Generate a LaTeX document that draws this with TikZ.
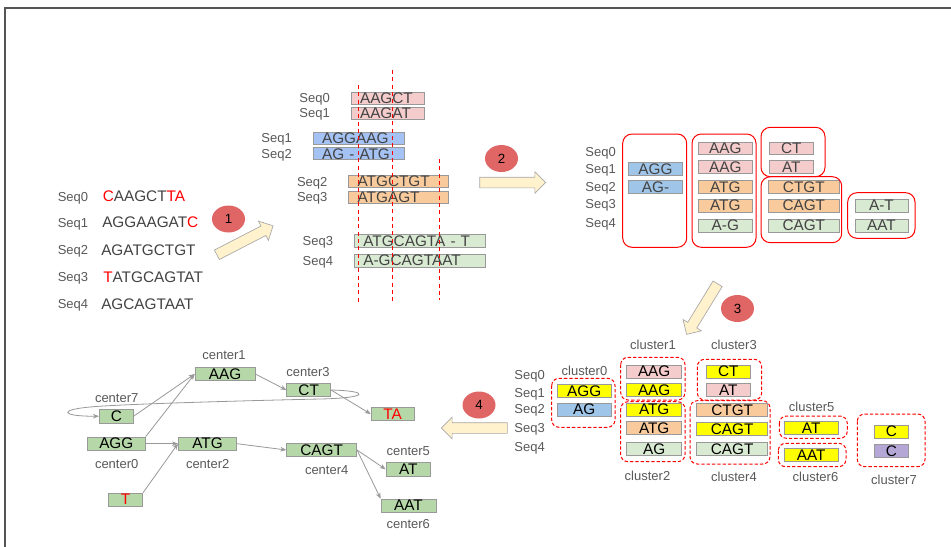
\documentclass[tikz,border=0pt]{standalone}
\usepackage{fontspec}
\setmainfont{Liberation Sans}
\usetikzlibrary{arrows.meta,positioning,shapes.geometric,shapes.arrows}
\definecolor{pinkc}{HTML}{F4CCCC}
\definecolor{bluec}{HTML}{9FC5E8}
\definecolor{cornc}{HTML}{A4C2F4}
\definecolor{orangec}{HTML}{F9CB9C}
\definecolor{greenc}{HTML}{D9EAD3}
\definecolor{nodegreen}{HTML}{B6D7A8}
\definecolor{yellowc}{HTML}{FFFF00}
\definecolor{purplec}{HTML}{B4A7D6}
\definecolor{boxgray}{HTML}{999999}
\definecolor{textgray}{HTML}{434343}
\definecolor{labelgray}{HTML}{595959}
\definecolor{badgered}{HTML}{E06666}
\definecolor{arrowfill}{HTML}{FFF2CC}
\definecolor{arrowedge}{HTML}{A8A8A8}
\definecolor{framegray}{HTML}{555555}
\tikzset{
seqlabel/.style={inner sep=0pt, text depth=0pt, text=labelgray, font=\fontsize{9.75}{11}\selectfont},
seqtext/.style={inner sep=0pt, anchor=west, text=textgray, font=\fontsize{11.5}{13}\selectfont},
alnbox/.style={draw=boxgray, line width=0.5pt, anchor=west, inner xsep=6.75pt, inner ysep=0pt, minimum height=9pt, align=left, text=textgray, font=\fontsize{11.5}{13}\selectfont},
kbox/.style={draw=boxgray, line width=0.5pt, inner sep=0pt, minimum height=9.45pt, text=textgray, font=\fontsize{11.5}{13}\selectfont},
cbox/.style={kbox, text=black, minimum height=9.75pt},
gnode/.style={kbox, fill=nodegreen, text=black, minimum height=10pt},
solidframe/.style={draw=red, line width=0.75pt, rounded corners=7pt},
dashframe/.style={draw=red, line width=0.75pt, dash pattern=on 2.5pt off 1.5pt, rounded corners=5.5pt},
cutline/.style={draw=red, line width=0.75pt, dash pattern=on 3pt off 2.5pt},
badge/.style={ellipse, fill=badgered, inner sep=0pt, minimum width=24.75pt, minimum height=20.25pt, font=\fontsize{10}{12}\selectfont},
flowarrow/.style={single arrow, draw=arrowedge, fill=arrowfill, line width=0.5pt, inner xsep=0pt, inner ysep=3.75pt, single arrow head extend=4.1pt},
linkarrow/.style={draw=boxgray, line width=0.6pt, -{Stealth[length=4.5pt,width=3.5pt]}}
}
\begin{document}
\begin{tikzpicture}[x=0.75pt,y=-0.75pt]
\useasboundingbox (0,0) rectangle (951,547);
\fill[white] (0,0) rectangle (951,547);
\draw[line width=1pt, framegray] (951,8) -- (5,8) -- (5,547);

% input reads
\node[seqlabel, anchor=west] (r0) at (57.5,196.7) {Seq0};
\node[seqlabel, anchor=west] (r1) at (57.5,222.7) {Seq1};
\node[seqlabel, anchor=west] (r2) at (57.5,250) {Seq2};
\node[seqlabel, anchor=west] (r3) at (57.5,277.3) {Seq3};
\node[seqlabel, anchor=west] (r4) at (57.5,304) {Seq4};
\node[seqtext] (read0) at (102.5,196.7) {\textcolor{red}{C}AAGCT\textcolor{red}{TA}};
\node[seqtext] (read1) at (102,222.7) {AGGAAGAT\textcolor{red}{C}};
\node[seqtext] (read2) at (101,250) {AGATGCTGT};
\node[seqtext] (read3) at (103,277.3) {\textcolor{red}{T}ATGCAGTAT};
\node[seqtext] (read4) at (101,304) {AGCAGTAAT};

% pairwise alignments
\node[alnbox, fill=pinkc, text width=41.7pt] (p0) at (350.7,98.2) {AAGCT};
\node[alnbox, fill=pinkc, text width=41.7pt] (p1) at (350.7,113) {AAGAT};
\node[alnbox, fill=cornc, text width=55.2pt] (q1) at (312.7,138) {AGGAAG};
\node[alnbox, fill=cornc, text width=55.2pt] (q2) at (312.7,153.8) {AG - ATG};
\node[alnbox, fill=orangec, text width=61.05pt] (o2) at (348.3,181.7) {ATGCTGT};
\node[alnbox, fill=orangec, text width=61.05pt] (o3) at (348.3,197.2) {ATGAGT};
\node[alnbox, fill=greenc, text width=84.75pt, minimum height=9.75pt] (g3) at (354,240.8) {ATGCAGTA - T};
\node[alnbox, fill=greenc, text width=84.75pt, minimum height=9.75pt] (g4) at (354,260.7) {A-GCAGTAAT};
\node[seqlabel, left=15.5pt of p0] (lp0) {Seq0};
\node[seqlabel, left=15.5pt of p1] (lp1) {Seq1};
\node[seqlabel, left=15.5pt of q1] (lq1) {Seq1};
\node[seqlabel, left=15.5pt of q2] (lq2) {Seq2};
\node[seqlabel, left=15.5pt of o2] (lo2) {Seq2};
\node[seqlabel, left=15.5pt of o3] (lo3) {Seq3};
\node[seqlabel, left=15.5pt of g3] (lg3) {Seq3};
\node[seqlabel, left=15.5pt of g4] (lg4) {Seq4};
\draw[cutline] (358.3,85) -- (358.3,302);
\draw[cutline] (392.7,70) -- (392.7,302);
\draw[cutline] (439.3,159) -- (439.3,300);

% split segments
\node[seqlabel, anchor=east] (t0) at (616,152.3) {Seq0};
\node[seqlabel, anchor=east] (t1) at (616,169.3) {Seq1};
\node[seqlabel, anchor=east] (t2) at (616,186.7) {Seq2};
\node[seqlabel, anchor=east] (t3) at (616,204.3) {Seq3};
\node[seqlabel, anchor=east] (t4) at (616,222.7) {Seq4};
\node[kbox, fill=bluec, minimum width=40.8pt] (ka1) at (655.5,168.8) {AGG};
\node[kbox, fill=bluec, minimum width=40.8pt] (ka2) at (655.5,187) {AG-};
\node[kbox, fill=pinkc, minimum width=41pt] (kb0) at (725.3,148.3) {AAG};
\node[kbox, fill=pinkc, minimum width=41pt] (kb1) at (725.3,167) {AAG};
\node[kbox, fill=orangec, minimum width=41pt] (kb2) at (725.3,187) {ATG};
\node[kbox, fill=orangec, minimum width=41pt] (kb3) at (725.3,205.7) {ATG};
\node[kbox, fill=greenc, minimum width=41pt] (kb4) at (725.3,225.7) {A-G};
\node[kbox, fill=pinkc, minimum width=33pt] (kc0) at (791.3,148.3) {CT};
\node[kbox, fill=pinkc, minimum width=33pt] (kc1) at (791.3,167) {AT};
\node[kbox, fill=orangec, minimum width=53.25pt] (kd2) at (803.8,187) {CTGT};
\node[kbox, fill=orangec, minimum width=53.25pt] (kd3) at (803.8,205.7) {CAGT};
\node[kbox, fill=greenc, minimum width=53.25pt] (kd4) at (803.8,225.7) {CAGT};
\node[kbox, fill=greenc, minimum width=39.75pt] (ke3) at (881.5,205.7) {A-T};
\node[kbox, fill=greenc, minimum width=39.75pt] (ke4) at (881.5,225.7) {AAT};
\draw[solidframe] (622.7,134) rectangle (686.7,247.3);
\draw[solidframe] (692,134) rectangle (756,247.3);
\draw[solidframe] (761,127.3) rectangle (825,176.7);
\draw[solidframe] (761,176.7) rectangle (841.7,242.7);
\draw[solidframe] (847.7,192.7) rectangle (915,238.3);

% clusters
\node[seqlabel, anchor=east] (u0) at (545,375) {Seq0};
\node[seqlabel, anchor=east] (u1) at (545,392.7) {Seq1};
\node[seqlabel, anchor=east] (u2) at (545,409.3) {Seq2};
\node[seqlabel, anchor=east] (u3) at (545,428.3) {Seq3};
\node[seqlabel, anchor=east] (u4) at (545,446.7) {Seq4};
\node[cbox, fill=yellowc, minimum width=40.3pt] (c0a) at (584.2,391.2) {AGG};
\node[cbox, fill=bluec, minimum width=40.3pt] (c0b) at (584.2,409.7) {AG};
\node[cbox, fill=pinkc, minimum width=41.25pt] (c1a) at (654.2,371.7) {AAG};
\node[cbox, fill=yellowc, minimum width=41.25pt] (c1b) at (654.2,390.3) {AAG};
\node[cbox, fill=yellowc, minimum width=41.25pt] (c2a) at (654.2,409.7) {ATG};
\node[cbox, fill=orangec, minimum width=41.25pt] (c2b) at (654.2,428.3) {ATG};
\node[cbox, fill=greenc, minimum width=41.25pt] (c2c) at (654.2,448.8) {AG};
\node[cbox, fill=yellowc, minimum width=32.5pt] (c3a) at (728.3,371.7) {CT};
\node[cbox, fill=pinkc, minimum width=32.5pt] (c3b) at (728.3,390) {AT};
\node[cbox, fill=orangec, minimum width=53.25pt] (c4a) at (732.2,410) {CTGT};
\node[cbox, fill=yellowc, minimum width=53.25pt] (c4b) at (732.2,429.3) {CAGT};
\node[cbox, fill=greenc, minimum width=53.25pt] (c4c) at (732.2,449.3) {CAGT};
\node[cbox, fill=yellowc, minimum width=40.7pt] (c5a) at (811.2,428.3) {AT};
\node[cbox, fill=yellowc, minimum width=40.7pt] (c6a) at (811.2,455.3) {AAT};
\node[cbox, fill=yellowc, minimum width=25.8pt] (c7a) at (891.5,431.7) {C};
\node[cbox, fill=purplec, minimum width=25.8pt] (c7b) at (891.5,451) {C};
\draw[dashframe] (551.7,378.3) rectangle (615,427.3);
\draw[dashframe] (620.7,357.3) rectangle (685,400);
\draw[dashframe] (620.7,401.7) rectangle (685,461.7);
\draw[dashframe] (697.3,359.3) rectangle (761.7,400);
\draw[dashframe] (690,400.7) rectangle (770,464);
\draw[dashframe] (779.3,416) rectangle (847.3,438.3);
\draw[dashframe] (778.3,443.3) rectangle (846,466.7);
\draw[dashframe] (857.3,414) rectangle (925,466.7);
\node[seqlabel] (n0) at (584.5,370.7) {cluster0};
\node[seqlabel] (n1) at (653,345) {cluster1};
\node[seqlabel] (n2) at (647.5,476) {cluster2};
\node[seqlabel] (n3) at (734,345) {cluster3};
\node[seqlabel] (n4) at (734,476.7) {cluster4};
\node[seqlabel] (n5) at (811.7,406.7) {cluster5};
\node[seqlabel] (n6) at (815.5,476.7) {cluster6};
\node[seqlabel] (n7) at (894,480) {cluster7};

% center graph
\node[gnode, minimum width=45pt] (gAAG) at (225,374) {AAG};
\node[gnode, minimum width=25.5pt] (gC) at (116.3,416.2) {C};
\node[gnode, minimum width=43.5pt] (gAGG) at (116.3,443.7) {AGG};
\node[gnode, minimum width=43.8pt] (gATG) at (207.5,443.7) {ATG};
\node[gnode, minimum width=25.8pt, text=red] (gT) at (125.5,499.7) {T};
\node[gnode, minimum width=33pt] (gCT) at (308.7,390) {CT};
\node[gnode, minimum width=32.5pt, text=red] (gTA) at (392.7,414) {TA};
\node[gnode, minimum width=52.5pt] (gCAGT) at (321.7,450) {CAGT};
\node[gnode, minimum width=33.5pt] (gAT) at (408.3,469.3) {AT};
\node[gnode, minimum width=41.25pt] (gAAT) at (408.5,505.7) {AAT};
\node[seqlabel] (m1) at (224,355) {center1};
\node[seqlabel] (m7) at (116.7,397.7) {center7};
\node[seqlabel] (m0) at (116.7,464) {center0};
\node[seqlabel] (m2) at (207.7,464) {center2};
\node[seqlabel] (m3) at (308,371.7) {center3};
\node[seqlabel] (m4) at (326.7,470) {center4};
\node[seqlabel] (m5) at (408.3,450.7) {center5};
\node[seqlabel] (m6) at (408.3,524) {center6};
\draw[linkarrow] (gC.east) -- (gAAG.west);
\draw[linkarrow] (gAGG.north east) -- (gAAG.west);
\draw[linkarrow] (gAGG.east) -- (gATG.west);
\draw[linkarrow] (gT.north east) -- (gATG.west);
\draw[linkarrow] (gAAG.east) -- (gCT.west);
\draw[linkarrow] (gCT.east) -- (gTA.west);
\draw[linkarrow] (gATG.east) -- (gCAGT.west);
\draw[linkarrow] (gCAGT.east) -- (gAT.west);
\draw[linkarrow] (gCAGT.east) -- (gAAT.north west);
\draw[linkarrow] (gCT.east) .. controls (371,391) and (369,398) .. (320,399)
  .. controls (230,401) and (130,404) .. (96,406.5)
  .. controls (55,409.5) and (62,416.5) .. (gC.west);

% steps
\node[flowarrow, minimum height=47.4pt, rotate=27.3] (step1) at (242.6,241.5) {};
\node[flowarrow, minimum height=49.5pt] (step2) at (510,182.5) {};
\node[flowarrow, minimum height=44.5pt, rotate=238.5] (step3) at (703.5,306.8) {};
\node[flowarrow, minimum height=49.5pt, rotate=180] (step4) at (477,428) {};
\node[badge] (b1) at (228.5,219) {1};
\node[badge] (b2) at (501.5,158.5) {2};
\node[badge] (b3) at (737.5,308.5) {3};
\node[badge] (b4) at (479,405) {4};
\end{tikzpicture}
\end{document}
